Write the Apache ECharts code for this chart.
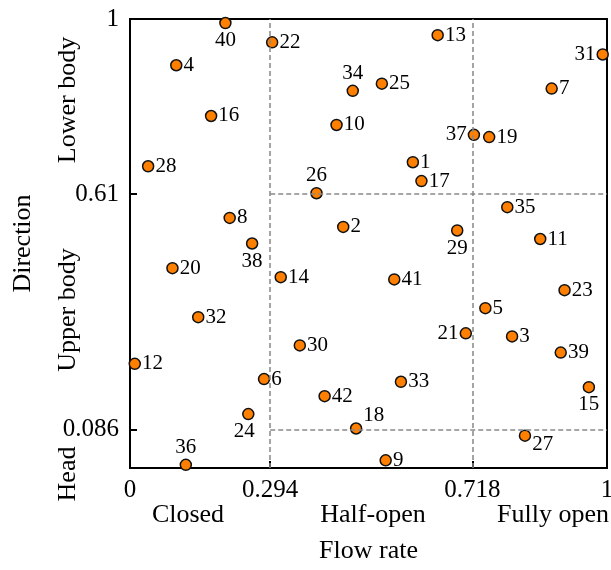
<!DOCTYPE html>
<html>
<head>
<meta charset="utf-8">
<script src="https://cdn.jsdelivr.net/npm/echarts@6/dist/echarts.min.js"></script>
<style>html,body{margin:0;padding:0;background:#fff}#c{width:611px;height:570px}</style>
</head>
<body>
<div id="c"></div>
<script>
// ---- data ----
const ids = [1,2,3,4,5,6,7,8,9,10,11,12,13,14,15,16,17,18,19,20,21,22,23,24,25,26,27,28,29,30,31,32,33,34,35,36,37,38,39,40,41,42];
const flowRate = [0.593,0.447,0.801,0.097,0.745,0.281,0.884,0.209,0.536,0.433,0.860,0.010,0.645,0.316,0.962,0.170,0.611,0.474,0.753,0.089,0.704,0.298,0.911,0.248,0.528,0.391,0.828,0.038,0.686,0.356,0.991,0.143,0.568,0.467,0.791,0.117,0.721,0.256,0.903,0.200,0.554,0.408];
const direction = [0.681,0.537,0.293,0.897,0.356,0.198,0.845,0.557,0.017,0.764,0.510,0.232,0.964,0.425,0.180,0.784,0.639,0.088,0.737,0.445,0.300,0.948,0.396,0.120,0.856,0.612,0.072,0.672,0.529,0.273,0.921,0.336,0.192,0.840,0.581,0.007,0.742,0.500,0.257,0.991,0.420,0.160];
const xTicks = [0, 0.294, 0.718, 1];
const yTicks = [0.086, 0.61, 1];
const xCategories = ['Closed', 'Half-open', 'Fully open'];
const yCategories = ['Head', 'Upper body', 'Lower body'];
const xName = 'Flow rate';
const yName = 'Direction';

// ---- styling (label placement) ----
const labelPlace = {
  40:{position:'bottom'}, 38:{position:'bottom'}, 29:{position:'bottom'}, 24:{position:'bottom', offset:[-4,0]}, 15:{position:'bottom'},
  26:{position:'top'}, 34:{position:'top'}, 36:{position:'top'},
  18:{position:'right', offset:[0,-13]}, 27:{position:'right', offset:[0,9]},
  37:{position:'left'}, 31:{position:'left'}, 21:{position:'left'}
};
const FONT = '"Liberation Serif", "Times New Roman", serif';

const data = ids.map((id, i) => {
  const p = labelPlace[id] || {position:'right'};
  return {name: String(id), value: [flowRate[i], direction[i]], label: Object.assign({}, p)};
});

const chart = echarts.init(document.getElementById('c'));
chart.setOption({
  animation: false,
  grid: {left:130, right:4, top:19, bottom:102, outerBoundsMode:'none', containLabel:false,
         show:true, borderColor:'#000', borderWidth:2, backgroundColor:'transparent'},
  xAxis: {
    type:'value', min:0, max:1,
    name: xName, nameLocation:'middle', nameGap:70,
    nameTextStyle:{fontFamily:FONT, fontSize:26, color:'#000'},
    splitLine:{show:false},
    axisLine:{lineStyle:{color:'#000', width:2}},
    axisTick:{inside:true, length:7, customValues:xTicks, lineStyle:{color:'#000', width:2}},
    axisLabel:{customValues:xTicks, formatter: v => String(v), fontFamily:FONT, fontSize:25, color:'#000', margin:10,
      showMinLabel:true, showMaxLabel:true}
  },
  yAxis: {
    type:'value', min:0, max:1,
    name: yName, nameLocation:'middle', nameGap:94,
    nameTextStyle:{fontFamily:FONT, fontSize:26, color:'#000'},
    splitLine:{show:false},
    axisLine:{lineStyle:{color:'#000', width:2}},
    axisTick:{inside:true, length:7, customValues:yTicks, lineStyle:{color:'#000', width:2}},
    axisLabel:{customValues:yTicks, formatter: v => String(v), fontFamily:FONT, fontSize:25, color:'#000', margin:11,
      showMinLabel:true, showMaxLabel:true}
  },
  graphic: [
    {type:'text', x:188, y:515, style:{text:xCategories[0], font:'26px '+FONT, fill:'#000', textAlign:'center', textVerticalAlign:'middle'}},
    {type:'text', x:373, y:515, style:{text:xCategories[1], font:'26px '+FONT, fill:'#000', textAlign:'center', textVerticalAlign:'middle'}},
    {type:'text', x:553, y:515, style:{text:xCategories[2], font:'26px '+FONT, fill:'#000', textAlign:'center', textVerticalAlign:'middle'}},
    {type:'text', x:68, y:474, rotation:Math.PI/2, style:{text:yCategories[0], font:'26px '+FONT, fill:'#000', textAlign:'center', textVerticalAlign:'middle'}},
    {type:'text', x:68, y:310, rotation:Math.PI/2, style:{text:yCategories[1], font:'26px '+FONT, fill:'#000', textAlign:'center', textVerticalAlign:'middle'}},
    {type:'text', x:68, y:100, rotation:Math.PI/2, style:{text:yCategories[2], font:'26px '+FONT, fill:'#000', textAlign:'center', textVerticalAlign:'middle'}}
  ],
  series: [{
    type:'scatter',
    clip:false,
    symbolSize:11,
    itemStyle:{color:'#FF8000', borderColor:'#111', borderWidth:1.5, opacity:1},
    label:{show:true, formatter:'{b}', fontFamily:FONT, fontSize:21, color:'#000', distance:1},
    data:data,
    markLine:{
      silent:true, symbol:['none','none'], animation:false,
      label:{show:false},
      lineStyle:{color:'#888', type:[5,3], width:1.5},
      data:[
        [{coord:[xTicks[1],0]},{coord:[xTicks[1],1]}],
        [{coord:[xTicks[2],0]},{coord:[xTicks[2],1]}],
        [{coord:[xTicks[1],yTicks[1]]},{coord:[1,yTicks[1]]}],
        [{coord:[xTicks[1],yTicks[0]]},{coord:[1,yTicks[0]]}]
      ]
    }
  }]
});
</script>
</body>
</html>
